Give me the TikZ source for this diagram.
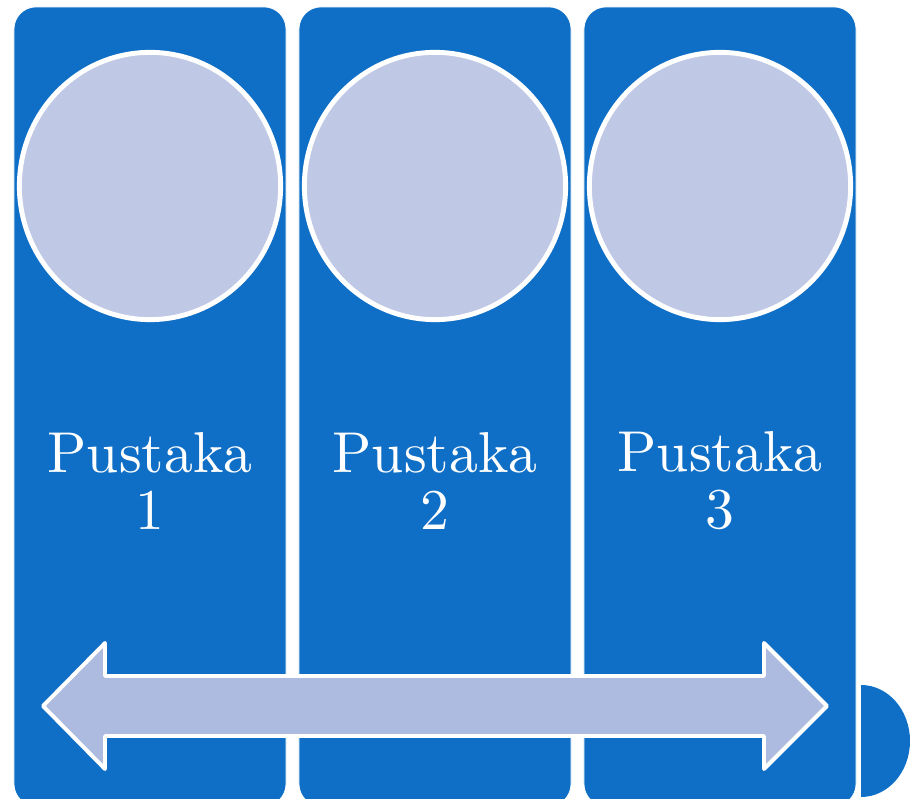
\documentclass[tikz,border=0pt]{standalone}
\usetikzlibrary{calc}
\usetikzlibrary{shapes.geometric}

\definecolor{pblue}{HTML}{0F6FC6}
\definecolor{pdisc}{HTML}{BFC8E5}
\definecolor{parrow}{HTML}{ACBBDF}

\tikzset{
  column/.style={fill=pblue, draw=white, line width=0.6pt, rounded corners=0.55cm,
    minimum width=6.8cm, minimum height=19.975cm, inner sep=0pt},
  disc/.style={ellipse, fill=pdisc, draw=white, line width=3.5pt,
    minimum width=6.53cm, minimum height=6.68cm, inner sep=0pt},
  booktext/.style={text=white, align=center, inner sep=0pt, scale=4.1, transform shape,
    font=\fontsize{10}{9.85}\selectfont},
}

\begin{document}
\begin{tikzpicture}[x=0.025cm,y=-0.025cm]

\useasboundingbox (0,0) rectangle (915,799);

% the little tab behind the last column
\fill[pblue] (861,685) arc[start angle=-90, end angle=90, x radius=49, y radius=56] -- cycle;

% three columns with a disc and a name each
\foreach \i in {1,2,3} {
  \pgfmathsetmacro{\cx}{150+285*(\i-1)}
  \node[column] (col\i) at (\cx,406.5) {};
  \node[disc] (disc\i) at (\cx,186) {};
  \node[booktext] (name\i) at (\cx,481) {Pustaka\\\i};
}

% double arrow across the bottom
\draw[fill=parrow, draw=white, line width=2.8pt, line join=round]
  (43,706) -- (105,643) -- (105,676) -- (764,676) -- (764,643) -- (827,706)
  -- (764,769) -- (764,736) -- (105,736) -- (105,769) -- cycle;

\end{tikzpicture}
\end{document}
